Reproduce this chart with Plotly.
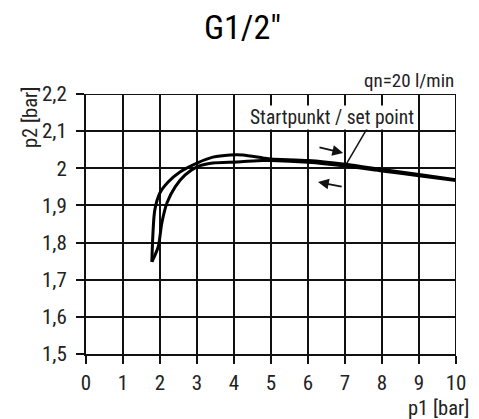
import plotly.graph_objects as go

# Curve A: outer-left branch, peaking near 4 bar
p1_a = [1.78, 1.81, 1.86, 2.0, 2.22, 2.54, 3.0, 3.43, 3.89, 4.24, 4.78, 5.0, 6.0, 7.0, 8.0, 9.0, 10.0]
p2_a = [1.748, 1.826, 1.888, 1.934, 1.963, 1.99, 2.014, 2.03, 2.036, 2.036, 2.028, 2.025, 2.021, 2.011, 1.997, 1.983, 1.969]
# Curve B: inner branch, flat near 2.015
p1_b = [1.78, 1.95, 2.05, 2.19, 2.41, 2.68, 3.0, 3.43, 4.08, 4.78, 5.0, 6.0, 7.0, 8.0, 9.0, 10.0]
p2_b = [1.748, 1.788, 1.853, 1.907, 1.95, 1.982, 2.004, 2.014, 2.017, 2.021, 2.021, 2.016, 2.006, 1.993, 1.980, 1.967]

x_ticks = [0, 1, 2, 3, 4, 5, 6, 7, 8, 9, 10]
x_labels = ["0", "1", "2", "3", "4", "5", "6", "7", "8", "9", "10"]
y_ticks = [1.5, 1.6, 1.7, 1.8, 1.9, 2.0, 2.1, 2.2]
y_labels = ["1,5", "1,6", "1,7", "1,8", "1,9", "2", "2,1", "2,2"]

FONT = "Roboto Condensed, DejaVu Sans Condensed, sans-serif"

W, H = 479, 419
L, R, T, B = 86, 23, 94, 65
PW, PH = W - L - R, H - T - B


def px(x):
    return (x - L) / PW


def py(y):
    return (H - B - y) / PH


fig = go.Figure()
for xs, ys in [(p1_a, p2_a), (p1_b, p2_b)]:
    fig.add_trace(go.Scatter(x=xs, y=ys, mode="lines",
                             line=dict(color="black", width=3, shape="spline", smoothing=0.8),
                             showlegend=False, hoverinfo="skip"))

axis_common = dict(showgrid=True, gridcolor="#111", gridwidth=2, showline=True, linecolor="#111",
                   linewidth=2, ticks="outside", ticklen=8, tickwidth=2, tickcolor="#111",
                   zeroline=False)
fig.update_xaxes(range=[0, 10], tickvals=x_ticks, ticktext=x_labels,
                 ticklabelstandoff=1, tickfont=dict(family=FONT, size=21, color="#222"),
                 **axis_common)
fig.update_yaxes(range=[1.5, 2.2], tickvals=y_ticks, ticktext=y_labels,
                 ticklabelstandoff=5, tickfont=dict(family=FONT, size=21, color="#222"),
                 **axis_common)

fig.add_shape(type="line", x0=10, x1=10, y0=1.5, y1=2.2, xref="x", yref="y",
              line=dict(color="#111", width=2))
fig.add_shape(type="line", x0=0, x1=10, y0=2.2, y1=2.2, xref="x", yref="y",
              line=dict(color="#111", width=2))
# leader line for set point
fig.add_shape(type="line", x0=7.62, y0=2.111, x1=7.05, y1=2.014, xref="x", yref="y",
              line=dict(color="#111", width=1.5))

annots = [
    dict(text="G1/2″", x=px(242), y=py(27), xref="paper", yref="paper",
         font=dict(family=FONT, size=34, color="black"), showarrow=False,
         xanchor="center", yanchor="middle"),
    dict(text="qn=20 l/min", x=px(456), y=py(80), xref="paper", yref="paper", xanchor="right",
         yanchor="middle", font=dict(family=FONT, size=19, color="#222"), showarrow=False),
    dict(text="Startpunkt / set point", x=px(332), y=py(117), xref="paper", yref="paper",
         xanchor="center", yanchor="middle", font=dict(family=FONT, size=19.5, color="#222"),
         showarrow=False, bgcolor="white", borderpad=0),
    dict(text="p1 [bar]", x=px(471), y=py(408), xref="paper", yref="paper",
         xanchor="right", yanchor="middle", font=dict(family=FONT, size=20.5, color="#222"),
         showarrow=False),
    dict(text="p2 [bar]", x=px(30), y=py(118), xref="paper", yref="paper",
         xanchor="center", yanchor="middle", textangle=-90,
         font=dict(family=FONT, size=20.5, color="#222"), showarrow=False),
    dict(text="", x=6.95, y=2.041, ax=6.27, ay=2.057, xref="x", yref="y", axref="x", ayref="y",
         showarrow=True, arrowhead=2, arrowsize=1.2, arrowwidth=1.8, arrowcolor="#111"),
    dict(text="", x=6.27, y=1.963, ax=6.95, ay=1.95, xref="x", yref="y", axref="x", ayref="y",
         showarrow=True, arrowhead=2, arrowsize=1.2, arrowwidth=1.8, arrowcolor="#111"),
]
fig.update_layout(annotations=annots, width=W, height=H,
                  margin=dict(l=L, r=R, t=T, b=B),
                  plot_bgcolor="white", paper_bgcolor="white",
                  font=dict(family=FONT))
fig.write_html("out.html", config={"displayModeBar": False, "staticPlot": True})

with open("out.html", encoding="utf-8") as f:
    html = f.read()
html = html.replace("<head>", "<head><style>html,body{margin:0;padding:0;overflow:hidden}</style>", 1)
with open("out.html", "w", encoding="utf-8") as f:
    f.write(html)
